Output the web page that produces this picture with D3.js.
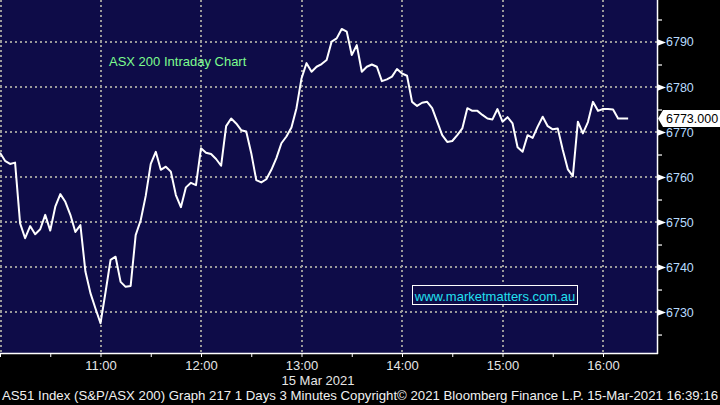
<!DOCTYPE html>
<html><head><meta charset="utf-8">
<script src="https://cdn.jsdelivr.net/npm/d3@7"></script>
<style>
body{margin:0;background:#000;}
svg{display:block;}
text{font-family:"Liberation Sans",Arial,sans-serif;}
</style>
</head><body>
<svg id="chart" width="720" height="405"></svg>
<script>
// ---- data ----
const sessionDate = "2021-03-15";
const startTime = "10:00";
const intervalMinutes = 3;
const values = [
  6765.4,6763.6,6762.9,6763.2,6749.7,6746.4,6749.1,6747.3,6748.4,6751.6,
  6748.1,6753.4,6756.2,6754.5,6751.6,6747.8,6749.3,6739.0,6734.2,6730.8,
  6727.5,6734.4,6741.6,6742.3,6736.7,6735.6,6735.8,6747.1,6750.4,6755.8,
  6762.9,6765.6,6761.6,6762.3,6761.2,6756.0,6753.3,6757.7,6758.7,6758.2,
  6766.4,6765.4,6765.1,6764.0,6762.5,6771.3,6773.0,6771.9,6770.4,6770.1,
  6765.3,6759.3,6758.8,6759.5,6761.6,6764.2,6767.5,6769.0,6771.0,6775.3,
  6781.9,6785.3,6783.4,6784.5,6785.1,6786.0,6790.1,6790.8,6792.9,6792.3,
  6787.1,6789.3,6783.4,6784.5,6785.0,6784.5,6781.3,6781.7,6782.3,6784.0,
  6783.0,6782.5,6776.7,6775.8,6776.5,6776.7,6775.3,6772.3,6769.3,6767.8,
  6768.0,6769.3,6770.8,6775.3,6774.7,6774.7,6773.8,6773.0,6772.8,6775.1,
  6772.3,6773.3,6771.9,6766.6,6765.6,6769.3,6768.7,6771.2,6773.4,6771.3,
  6770.6,6770.8,6766.0,6761.7,6760.2,6772.3,6769.7,6772.2,6776.7,6774.7,
  6775.1,6775.1,6775.0,6773.0,6773.0,6773.0
];
const lastPrice = 6773.000;
const yMajorTicks = [6730,6740,6750,6760,6770,6780,6790];
const yMinorTicks = [6725,6735,6745,6755,6765,6775,6785,6795];
const xMajorTicks = ["11:00","12:00","13:00","14:00","15:00","16:00"];
const xMinorTicks = ["10:00","10:30","11:30","12:30","13:30","14:30","15:30"];
const dateLabel = "15 Mar 2021";
const titleText = "ASX 200 Intraday Chart";
const watermarkText = "www.marketmatters.com.au";
const footerText = "AS51 Index (S&P/ASX 200) Graph 217 1 Days 3 Minutes Copyright\u00a9 2021 Bloomberg Finance L.P. 15-Mar-2021 16:39:16";

// ---- setup ----
const parse = d3.timeParse("%Y-%m-%d %H:%M");
const t0 = parse(sessionDate + " " + startTime);
const data = values.map((v,i)=>({t:d3.timeMinute.offset(t0, i*intervalMinutes), v}));
const toT = s => parse(sessionDate + " " + s);

const W = 720, H = 405;
const plotW = 657, plotH = 353;
const svg = d3.select("#chart");
svg.append("rect").attr("width",W).attr("height",H).attr("fill","#000");

const x = d3.scaleTime()
  .domain([t0, d3.timeSecond.offset(t0, 6*3600+32*60+14)])
  .range([0, plotW]);
const y = d3.scaleLinear().domain([6720.9, 6799.33]).range([plotH, 0]);

const bg = "#0e0c48";
svg.append("rect").attr("x",0).attr("y",0).attr("width",plotW).attr("height",plotH).attr("fill",bg);

// grid
const grid = svg.append("g").attr("stroke","#9a9a9a").attr("stroke-width",2).attr("stroke-dasharray","2,3");
grid.selectAll("line.h").data(yMajorTicks).join("line")
  .attr("x1",0).attr("x2",plotW).attr("y1",d=>Math.round(y(d))).attr("y2",d=>Math.round(y(d)));
grid.selectAll("line.v").data(["10:00"].concat(xMajorTicks)).join("line")
  .attr("x1",d=>Math.round(x(toT(d)))+ (d==="10:00"?1:0)).attr("x2",d=>Math.round(x(toT(d)))+(d==="10:00"?1:0))
  .attr("y1",0).attr("y2",plotH);

// title
svg.append("text").attr("x",109).attr("y",66).attr("fill","#7dfc8e").attr("font-size",13).text(titleText);

// watermark box
const wm = svg.append("g");
wm.append("rect").attr("x",412.5).attr("y",285.5).attr("width",165).attr("height",19)
  .attr("fill",bg).attr("stroke","#ffffff").attr("stroke-width",1);
wm.append("text").attr("x",495).attr("y",300.5).attr("text-anchor","middle")
  .attr("fill","#22e0f0").attr("font-size",13).text(watermarkText);

// line
svg.append("path").datum(data)
  .attr("fill","none").attr("stroke","#ffffff").attr("stroke-width",2).attr("stroke-linejoin","round")
  .attr("d", d3.line().x(d=>x(d.t)).y(d=>y(d.v)));

// axes lines
svg.append("line").attr("x1",plotW+0.5).attr("x2",plotW+0.5).attr("y1",0).attr("y2",plotH+1)
  .attr("stroke","#fff").attr("stroke-width",1.5);
svg.append("line").attr("x1",0).attr("x2",plotW+1).attr("y1",plotH+0.5).attr("y2",plotH+0.5)
  .attr("stroke","#fff").attr("stroke-width",1.5);

// right axis
const yAxis = d3.axisRight(y).tickValues(yMajorTicks).tickSize(0).tickPadding(9).tickFormat(d3.format("d"));
const ga = svg.append("g").attr("transform",`translate(${plotW},0)`).call(yAxis);
ga.select(".domain").remove();
ga.selectAll("text").attr("fill","#b8dcff").attr("font-size",12.5).attr("font-family","Liberation Sans, Arial, sans-serif");
ga.selectAll(".tick").append("path").attr("d","M0,-3.5L9,0L0,3.5Z").attr("fill","#fff");
const yMinor = d3.axisRight(y).tickValues(yMinorTicks).tickSize(5).tickFormat("");
const gm = svg.append("g").attr("transform",`translate(${plotW},0)`).call(yMinor);
gm.select(".domain").remove();
gm.selectAll("line").attr("stroke","#fff").attr("stroke-width",1.2);

// bottom axis
const xAxis = d3.axisBottom(x).tickValues(xMajorTicks.map(toT)).tickSize(4).tickPadding(4)
  .tickFormat(d3.timeFormat("%H:%M"));
const gx = svg.append("g").attr("transform",`translate(0,${plotH})`).call(xAxis);
gx.select(".domain").remove();
gx.selectAll("line").attr("stroke","#fff");
gx.selectAll("text").attr("fill","#e6e6e6").attr("font-size",13).attr("font-family","Liberation Sans, Arial, sans-serif");
const xMinor = d3.axisBottom(x).tickValues(xMinorTicks.map(toT)).tickSize(4).tickFormat("");
const gxm = svg.append("g").attr("transform",`translate(0,${plotH})`).call(xMinor);
gxm.select(".domain").remove();
gxm.selectAll("line").attr("stroke","#fff");

svg.append("text").attr("x",318).attr("y",384.5).attr("text-anchor","middle")
  .attr("fill","#e6e6e6").attr("font-size",13).text(dateLabel);

// last price tag
const ly = y(lastPrice);
svg.append("path")
  .attr("d",`M${plotW+1},${ly}L${plotW+6},${ly-8.5}L${W},${ly-8.5}L${W},${ly+8.5}L${plotW+6},${ly+8.5}Z`)
  .attr("fill","#fff");
svg.append("text").attr("x",666).attr("y",ly+4.5).attr("fill","#000").attr("font-size",12.5)
  .text(d3.format(".3f")(lastPrice));

// footer
svg.append("text").attr("x",2).attr("y",400).attr("fill","#f0f0f0").attr("font-size",13)
  .attr("textLength",716).attr("lengthAdjust","spacingAndGlyphs").text(footerText);
</script>
</body></html>
